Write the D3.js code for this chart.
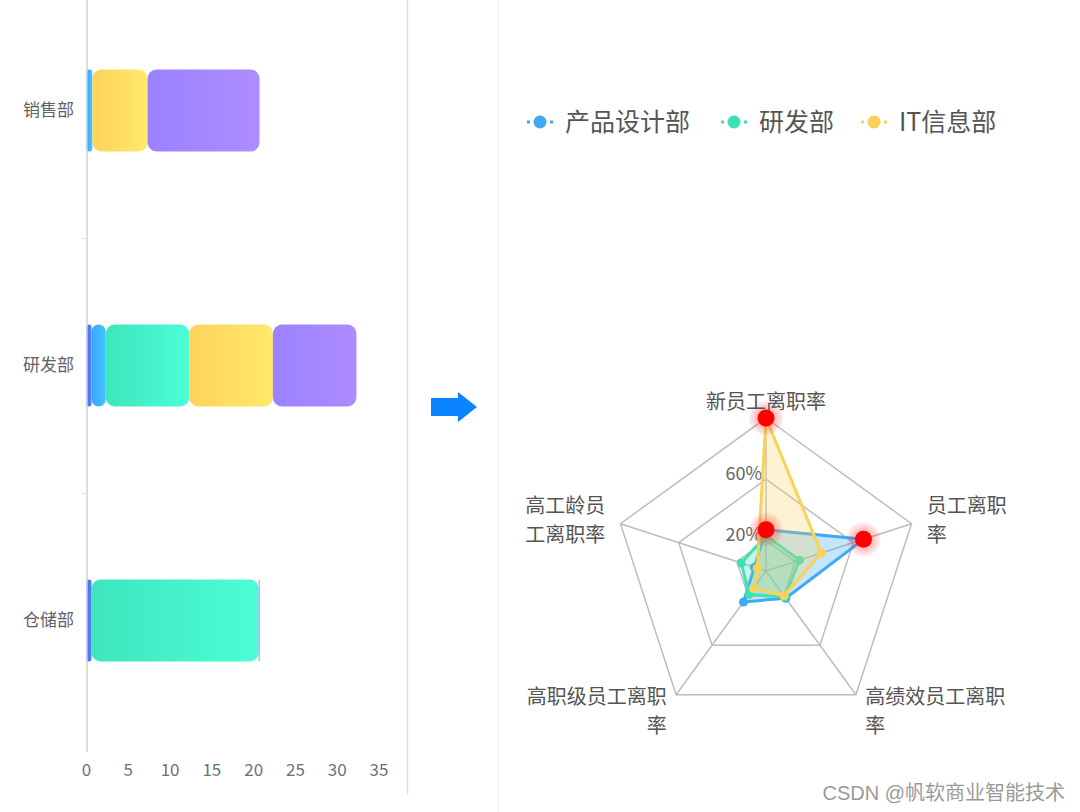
<!DOCTYPE html>
<html>
<head>
<meta charset="utf-8">
<script src="https://cdn.jsdelivr.net/npm/d3@7"></script>
<style>
  body { margin: 0; background: #fff; }
  svg { display: block; font-family: "Noto Sans CJK SC", "Noto Sans", sans-serif; }
</style>
</head>
<body>
<div id="container"></div>
<script>
	var WIDTH = 1080;
	var HEIGHT = 812;

	// left stacked bar chart
	var barCategories = ["销售部", "研发部", "仓储部"];
	var barTicks = [0, 5, 10, 15, 20, 25, 30, 35];
	var barSeries1 = [0, 0.6, 0.6];
	var barSeries2 = [0.7, 1.7, 0];
	var barSeries3 = [0, 10, 20];
	var barSeries4 = [6.6, 10, 0];
	var barSeries5 = [13.4, 10, 0.1];
	var barColors = [["#556cf2", "#4f80ff"], ["#3aa6ff", "#45c2ff"], ["#3de6bd", "#4dfdd6"], ["#fdd35c", "#ffe96a"], ["#9a82ff", "#ae8cff"]];

	// right radar chart
	var radarIndicators = ["新员工离职率", "员工离职率", "高绩效员工离职率", "高职级员工离职率", "高工龄员工离职率"];
	var radarLabelLines = [["新员工离职率"], ["员工离职", "率"], ["高绩效员工离职", "率"], ["高职级员工离职", "率"], ["高工龄员", "工离职率"]];
	var radarNames = ["产品设计部", "研发部", "IT信息部"];
	var designValues = [27, 67, 22, 25, 8];
	var rdValues = [23, 23, 21, 19, 17];
	var itValues = [100, 38, 20, 14, 6];
	var radarColors = ["#3fa9f5", "#3ee0b4", "#f9d25a"];
	var radarRings = [20, 60, 100];
	var radarTickLabels = [20, 60];
	// [series, indicator] points shown in red
	var redPoints = [[2, 0], [0, 1], [0, 0]];

	var svg = d3.select('#container')
		.append('svg')
		.attr('width', WIDTH)
		.attr('height', HEIGHT);

	var defs = svg.append('defs');
	barColors.forEach(function(c, i){
		var g = defs.append('linearGradient').attr('id', 'bg' + i)
			.attr('x1', '0%').attr('x2', '100%').attr('y1', '0%').attr('y2', '0%');
		g.append('stop').attr('offset', '0%').attr('stop-color', c[0]);
		g.append('stop').attr('offset', '100%').attr('stop-color', c[1]);
	});
	var glow = defs.append('radialGradient').attr('id', 'glow');
	glow.append('stop').attr('offset', '45%').attr('stop-color', '#ff0000').attr('stop-opacity', 0.3);
	glow.append('stop').attr('offset', '100%').attr('stop-color', '#ff0000').attr('stop-opacity', 0.05);

	// panel borders
	svg.append('line').attr('x1', 407.5).attr('x2', 407.5).attr('y1', 0).attr('y2', 795)
		.style('stroke', '#dfe1ea').style('stroke-width', 1.5);
	svg.append('line').attr('x1', 498.5).attr('x2', 498.5).attr('y1', 0).attr('y2', HEIGHT)
		.style('stroke', '#eeeeee').style('stroke-width', 1);

	/* ---------- bar chart ---------- */
	var x = d3.scaleLinear().domain([0, 35]).range([86.5, 379]);
	var y = d3.scaleBand().domain(barCategories).range([-17, 748]).paddingInner(0).paddingOuter(0);
	var barH = 82;

	var rows = barCategories.map(function(c, i){
		return {cat: c, s0: barSeries1[i], s1: barSeries2[i], s2: barSeries3[i], s3: barSeries4[i], s4: barSeries5[i]};
	});
	var stack = d3.stack().keys(["s0", "s1", "s2", "s3", "s4"])(rows);

	var bars = svg.append('g');
	stack.forEach(function(layer, li){
		bars.selectAll('.b' + li)
			.data(layer.filter(function(d){ return d[1] - d[0] > 0; }))
			.enter().append('rect')
			.attr('x', function(d){ return x(d[0]); })
			.attr('y', function(d){ return y(d.data.cat) + (y.bandwidth() - barH) / 2; })
			.attr('width', function(d){ return Math.max(1, x(d[1]) - x(d[0])); })
			.attr('height', barH)
			.attr('rx', function(d){ return Math.min(9, (x(d[1]) - x(d[0])) / 2); })
			.style('fill', 'url(#bg' + li + ')');
	});

	// y axis
	svg.append('line').attr('x1', 87).attr('x2', 87).attr('y1', 0).attr('y2', 752)
		.style('stroke', '#cfd0d8').style('stroke-width', 1.5);
	svg.selectAll('.sep')
		.data(barCategories.slice(1))
		.enter().append('line')
		.attr('x1', 81).attr('x2', 87)
		.attr('y1', function(d){ return y(d) + 0.5; })
		.attr('y2', function(d){ return y(d) + 0.5; })
		.style('stroke', '#e4e5ea');
	svg.selectAll('.ylab')
		.data(barCategories)
		.enter().append('text')
		.text(function(d){ return d; })
		.attr('x', 74)
		.attr('y', function(d){ return y(d) + y.bandwidth() / 2; })
		.attr('dy', '0.35em')
		.attr('text-anchor', 'end')
		.style('font-size', '17px')
		.style('fill', '#60626a');

	// x ticks
	svg.selectAll('.xlab')
		.data(barTicks)
		.enter().append('text')
		.text(function(d){ return d; })
		.attr('x', function(d){ return x(d); })
		.attr('y', 770)
		.attr('dy', '0.35em')
		.attr('text-anchor', 'middle')
		.style('font-size', '17px')
		.style('fill', '#6e7079');

	/* ---------- arrow ---------- */
	svg.append('path')
		.attr('d', 'M431,398 L458,398 L458,392 L477,407 L458,422 L458,416 L431,416 Z')
		.style('fill', '#0a84ff');

	/* ---------- legend ---------- */
	var legendX = [540, 734, 874];
	var legend = svg.selectAll('.leg')
		.data(radarNames)
		.enter().append('g')
		.attr('transform', function(d, i){ return 'translate(' + legendX[i] + ',122)'; });
	legend.append('line')
		.attr('x1', -13).attr('x2', 13)
		.style('stroke', function(d, i){ return radarColors[i]; })
		.style('stroke-width', 3)
		.style('stroke-dasharray', '3,4,12,4,3');
	legend.append('circle').attr('r', 6.5)
		.style('fill', function(d, i){ return radarColors[i]; });
	legend.append('text')
		.text(function(d){ return d; })
		.attr('x', 25)
		.attr('dy', '0.35em')
		.style('font-size', '25px')
		.style('fill', '#555');

	/* ---------- radar ---------- */
	var cx = 766, cy = 571, R = 153;
	var r = d3.scaleLinear().domain([0, 100]).range([0, R]);
	var n = radarIndicators.length;
	var ang = function(i){ return i * 2 * Math.PI / n; };
	var pt = function(i, v){ return [cx + Math.sin(ang(i)) * r(v), cy - Math.cos(ang(i)) * r(v)]; };

	var radar = svg.append('g');
	radar.selectAll('.ring')
		.data(radarRings)
		.enter().append('polygon')
		.attr('points', function(v){
			return d3.range(n).map(function(i){ return pt(i, v).join(','); }).join(' ');
		})
		.style('fill', 'none')
		.style('stroke', '#bdbdbd')
		.style('stroke-width', 1.5);
	radar.selectAll('.spoke')
		.data(d3.range(n))
		.enter().append('line')
		.attr('x1', cx).attr('y1', cy)
		.attr('x2', function(i){ return pt(i, 100)[0]; })
		.attr('y2', function(i){ return pt(i, 100)[1]; })
		.style('stroke', '#bdbdbd')
		.style('stroke-width', 1.5);

	radar.selectAll('.tick')
		.data(radarTickLabels)
		.enter().append('text')
		.text(function(d){ return d + '%'; })
		.attr('x', cx - 4)
		.attr('y', function(d){ return cy - r(d) - 6; })
		.attr('dy', '0.35em')
		.attr('text-anchor', 'end')
		.style('font-size', '18px')
		.style('fill', '#666');

	var allValues = [designValues, rdValues, itValues];
	var fills = ['rgba(63,169,245,0.3)', 'rgba(62,224,180,0.3)', 'rgba(249,210,90,0.28)'];
	allValues.forEach(function(vals, si){
		var pts = vals.map(function(v, i){ return pt(i, v); });
		radar.append('polygon')
			.attr('points', pts.map(function(p){ return p.join(','); }).join(' '))
			.style('fill', fills[si])
			.style('stroke', radarColors[si])
			.style('stroke-width', 3)
			.style('stroke-linejoin', 'round');
		radar.selectAll('.p' + si)
			.data(pts)
			.enter().append('circle')
			.attr('cx', function(p){ return p[0]; })
			.attr('cy', function(p){ return p[1]; })
			.attr('r', 4.5)
			.style('fill', radarColors[si]);
	});

	redPoints.forEach(function(rp){
		var p = pt(rp[1], allValues[rp[0]][rp[1]]);
		radar.append('circle').attr('cx', p[0]).attr('cy', p[1]).attr('r', 17).style('fill', 'url(#glow)');
		radar.append('circle').attr('cx', p[0]).attr('cy', p[1]).attr('r', 8.5).style('fill', '#ff0000');
	});

	// indicator names, one text per line
	radarLabelLines.forEach(function(lines, i){
		var s = Math.sin(ang(i)), c = Math.cos(ang(i));
		var p = pt(i, 100);
		var lx = p[0] + s * 16, ly = p[1];
		var anchor = Math.abs(s) < 0.01 ? 'middle' : (s > 0 ? 'start' : 'end');
		var lh = 29;
		var firstY;
		if (c > 0.9) firstY = ly - 16 - (lines.length - 1) * lh;
		else if (c > 0) firstY = ly - (lines.length - 1) * lh / 2 - 3;
		else firstY = ly + 2;
		lines.forEach(function(line, k){
			radar.append('text')
				.text(line)
				.attr('x', lx)
				.attr('y', firstY + k * lh)
				.attr('dy', '0.35em')
				.attr('text-anchor', anchor)
				.style('font-size', '20px')
				.style('fill', '#555');
		});
	});

	// watermark
	svg.append('text')
		.text('CSDN @帆软商业智能技术')
		.attr('x', 1065).attr('y', 793)
		.attr('dy', '0.35em')
		.attr('text-anchor', 'end')
		.style('font-family', '"Liberation Sans", "Noto Sans CJK SC", sans-serif')
		.style('font-size', '20px')
		.style('fill', '#9a9a9a');
</script>
</body>
</html>
